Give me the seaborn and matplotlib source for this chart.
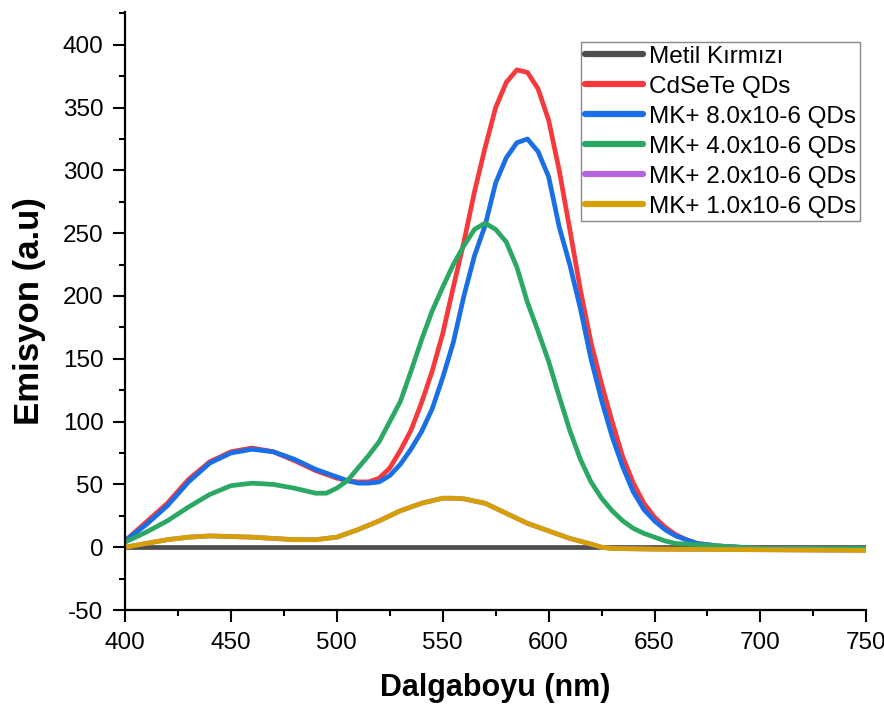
import numpy as np
import pandas as pd
import seaborn as sns
import matplotlib.pyplot as plt

# dalga boyu (nm) ve emisyon degerleri
wl_black = [400, 500, 600, 700, 750]
metil = [0, 0, 0, 0, 0]

wl_qd = [400, 410, 420, 430, 440, 450, 460, 470, 480, 490, 500, 505, 510, 515, 520,
         525, 530, 535, 540, 545, 550, 555, 560, 565, 570, 575, 580, 585, 590, 595,
         600, 605, 610, 615, 620, 625, 630, 635, 640, 645, 650, 655, 660, 665, 670,
         675, 680, 690, 700, 725, 750]
cdsete = [5, 20, 35, 54, 68, 76, 79, 76, 69, 61, 55, 53, 52, 52, 55,
          63, 77, 93, 115, 140, 170, 207, 243, 283, 318, 350, 370, 380, 378, 365,
          340, 300, 253, 205, 163, 130, 100, 72, 51, 35, 24, 16, 10, 6, 3,
          2, 1, 0, -1, -1, -1]
mk8 = [5, 18, 33, 52, 67, 75, 78, 76, 70, 62, 56, 53, 51, 51, 52,
       57, 66, 78, 92, 110, 135, 163, 200, 232, 256, 290, 310, 322, 325, 315,
       295, 255, 225, 190, 150, 117, 88, 64, 44, 30, 21, 14, 9, 6, 3,
       2, 1, 0, -1, -1, -1]

wl_g = [400, 410, 420, 430, 440, 450, 460, 470, 480, 485, 490, 495, 500, 505, 510,
        515, 520, 525, 530, 535, 540, 545, 550, 555, 560, 565, 570, 575, 580, 585,
        590, 595, 600, 605, 610, 615, 620, 625, 630, 635, 640, 645, 650, 655, 660,
        670, 680, 690, 700, 725, 750]
mk4 = [4, 12, 21, 32, 42, 49, 51, 50, 47, 45, 43, 43, 47, 53, 63,
       73, 84, 100, 116, 140, 165, 188, 207, 225, 240, 253, 258, 253, 243, 223,
       195, 172, 148, 120, 93, 70, 52, 39, 29, 21, 15, 11, 8, 5, 3,
       2, 1, 0, -1, -1, -1]

wl_y = [400, 410, 420, 430, 440, 450, 460, 470, 480, 490, 500, 505, 510, 520, 530,
        540, 550, 555, 560, 570, 580, 590, 600, 610, 620, 625, 630, 650, 700, 750]
mk2 = [0, 3, 6, 8, 9, 8.5, 8, 7, 6, 6, 8, 11, 14, 21, 29,
       35, 39, 39, 38.5, 35, 27, 19, 13, 7, 2.5, 0, -1, -1.5, -2, -2.5]
mk1 = [0, 3, 6, 8, 9, 8.5, 8, 7, 6, 6, 8, 11, 14, 21, 29,
       35, 39, 39, 38.5, 35, 27, 19, 13, 7, 2.5, 0, -1, -1.5, -2, -2.5]

names = ["Metil Kırmızı", "CdSeTe QDs", "MK+ 8.0x10-6 QDs", "MK+ 4.0x10-6 QDs",
         "MK+ 2.0x10-6 QDs", "MK+ 1.0x10-6 QDs"]
renkler = ["#4d4d4d", "#f5393c", "#1a6ee6", "#2aa864", "#b366e0", "#d4a005"]

parcalar = []
for ad, x, y in zip(names, [wl_black, wl_qd, wl_qd, wl_g, wl_y, wl_y],
                    [metil, cdsete, mk8, mk4, mk2, mk1]):
    parcalar.append(pd.DataFrame({"wl": x, "em": y, "seri": ad}))
df = pd.concat(parcalar, ignore_index=True)

sns.set_style("ticks")
plt.rcParams["font.family"] = ["Liberation Sans", "DejaVu Sans"]
plt.rcParams["axes.unicode_minus"] = False
plt.rcParams.update({"text.color": "black", "axes.labelcolor": "black",
                     "xtick.color": "black", "ytick.color": "black",
                     "axes.edgecolor": "black"})

fig = plt.figure(figsize=(8.84, 7.11), dpi=100)
ax = fig.add_axes([0.1414, 0.142, 0.8386, 0.841])
sns.lineplot(data=df, x="wl", y="em", hue="seri", hue_order=names,
             palette=dict(zip(names, renkler)), linewidth=3.4,
             estimator=None, sort=False, ax=ax, legend=False)

ax.set_xlim(400, 750)
ax.set_ylim(-50, 426)
ax.set_xticks(np.arange(400, 751, 50))
ax.set_xticks(np.arange(425, 751, 50), minor=True)
ax.set_yticks(np.arange(-50, 401, 50))
ax.set_yticks(np.arange(-25, 426, 50), minor=True)
ax.tick_params(which="major", length=8.5, width=1.5, labelsize=17.5, direction="out", pad=7)
ax.tick_params(which="minor", length=4.5, width=1.5, direction="out")
for s in ["top", "right"]:
    ax.spines[s].set_visible(False)
for s in ["left", "bottom"]:
    ax.spines[s].set_linewidth(1.6)

ax.set_xlabel("Dalgaboyu (nm)", fontsize=22, fontweight="bold", labelpad=14)
ax.set_ylabel("Emisyon (a.u)", fontsize=25, fontweight="bold", labelpad=12)

handles = [plt.Line2D([], [], color=c, linewidth=4.5) for c in renkler]
leg = fig.legend(handles, names, loc="upper right", bbox_to_anchor=(0.973, 0.941),
                 borderaxespad=0, fontsize=17.5, labelspacing=0.33,
                 handlelength=2.4, handletextpad=0.25, borderpad=0.15,
                 fancybox=False, framealpha=1, edgecolor="#888888")
leg.get_frame().set_linewidth(1.0)

plt.savefig("out.png", dpi=100)
plt.close()
